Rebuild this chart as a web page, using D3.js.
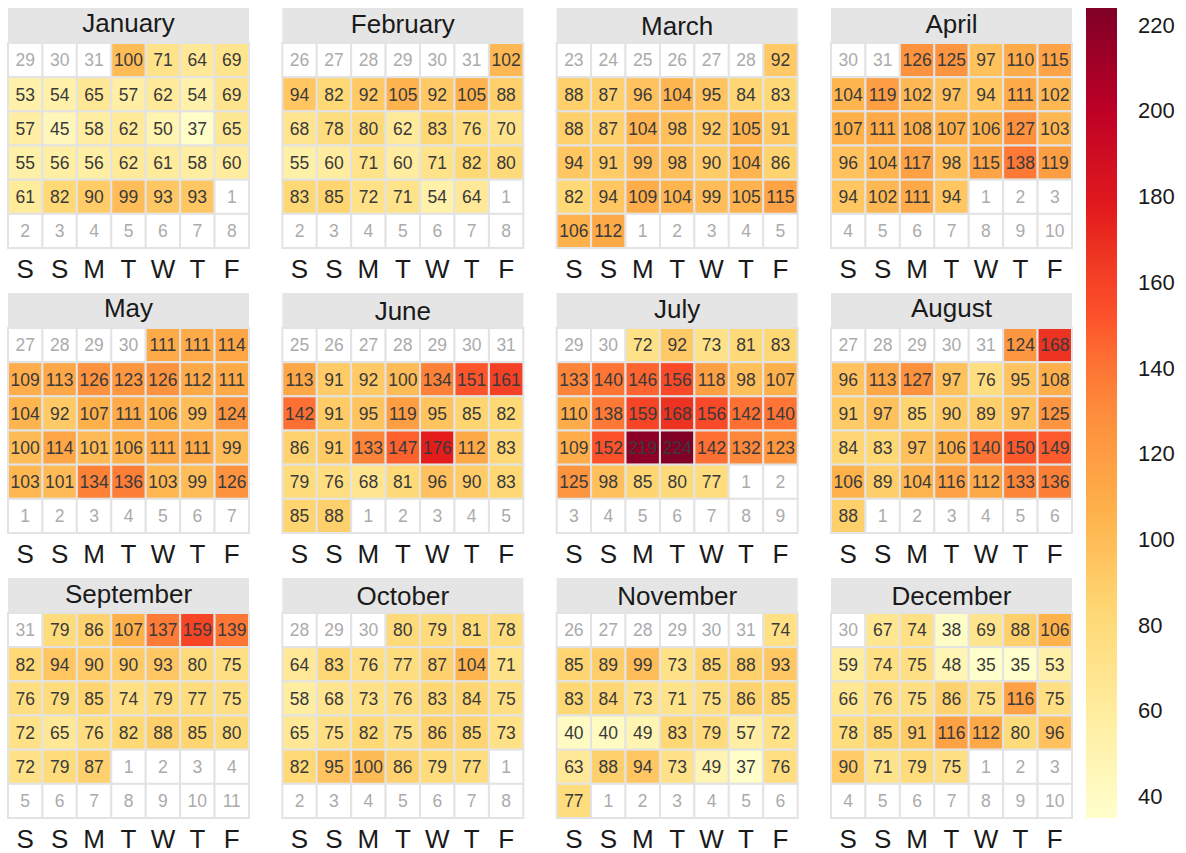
<!DOCTYPE html>
<html>
<head>
<meta charset="utf-8">
<script src="https://cdn.jsdelivr.net/npm/d3@7"></script>
<style>
  body { margin: 0; background: #ffffff; }
  svg { display: block; }
</style>
</head>
<body>
<svg id="chart" width="1186" height="853"></svg>
<script>
// Daily readings for 2019, one array per month (day 1 .. last day)
const year = 2019;
const monthNames = ["January", "February", "March", "April", "May", "June",
                    "July", "August", "September", "October", "November", "December"];
const weekdayLabels = ["S", "S", "M", "T", "W", "T", "F"];

const jan = [100, 71, 64, 69, 53, 54, 65, 57, 62, 54, 69, 57, 45, 58, 62, 50, 37, 65,
             55, 56, 56, 62, 61, 58, 60, 61, 82, 90, 99, 93, 93];
const feb = [102, 94, 82, 92, 105, 92, 105, 88, 68, 78, 80, 62, 83, 76, 70,
             55, 60, 71, 60, 71, 82, 80, 83, 85, 72, 71, 54, 64];
const mar = [92, 88, 87, 96, 104, 95, 84, 83, 88, 87, 104, 98, 92, 105, 91,
             94, 91, 99, 98, 90, 104, 86, 82, 94, 109, 104, 99, 105, 115, 106, 112];
const apr = [126, 125, 97, 110, 115, 104, 119, 102, 97, 94, 111, 102, 107, 111, 108,
             107, 106, 127, 103, 96, 104, 117, 98, 115, 138, 119, 94, 102, 111, 94];
const may = [111, 111, 114, 109, 113, 126, 123, 126, 112, 111, 104, 92, 107, 111, 106,
             99, 124, 100, 114, 101, 106, 111, 111, 99, 103, 101, 134, 136, 103, 99, 126];
const jun = [113, 91, 92, 100, 134, 151, 161, 142, 91, 95, 119, 95, 85, 82,
             86, 91, 133, 147, 176, 112, 83, 79, 76, 68, 81, 96, 90, 83, 85, 88];
const jul = [72, 92, 73, 81, 83, 133, 140, 146, 156, 118, 98, 107, 110, 138, 159, 168,
             156, 142, 140, 109, 152, 219, 224, 142, 132, 123, 125, 98, 85, 80, 77];
const aug = [124, 168, 96, 113, 127, 97, 76, 95, 108, 91, 97, 85, 90, 89, 97, 125,
             84, 83, 97, 106, 140, 150, 149, 106, 89, 104, 116, 112, 133, 136, 88];
const sep = [79, 86, 107, 137, 159, 139, 82, 94, 90, 90, 93, 80, 75, 76, 79,
             85, 74, 79, 77, 75, 72, 65, 76, 82, 88, 85, 80, 72, 79, 87];
const oct = [80, 79, 81, 78, 64, 83, 76, 77, 87, 104, 71, 58, 68, 73, 76, 83,
             84, 75, 65, 75, 82, 75, 86, 85, 73, 82, 95, 100, 86, 79, 77];
const nov = [74, 85, 89, 99, 73, 85, 88, 93, 83, 84, 73, 71, 75, 86, 85,
             40, 40, 49, 83, 79, 57, 72, 63, 88, 94, 73, 49, 37, 76, 77];
const dec = [67, 74, 38, 69, 88, 106, 59, 74, 75, 48, 35, 35, 53, 66, 76, 75,
             86, 75, 116, 75, 78, 85, 91, 116, 112, 80, 96, 90, 71, 79, 75];

const monthValues = [jan, feb, mar, apr, may, jun, jul, aug, sep, oct, nov, dec];
const legendTicks = [40, 60, 80, 100, 120, 140, 160, 180, 200, 220];

// ---- layout ----
const FONT = "'Liberation Sans', Arial, Helvetica, sans-serif";
const panelW = 241, headerH = 35, gridH = 205;
const panelCol = d3.scaleLinear().domain([0, 3]).range([8, 831]);
const panelRow = d3.scaleLinear().domain([0, 2]).range([8, 578]);
const xDay = d3.scaleBand().domain(d3.range(7)).range([0, panelW]);
const yWeek = d3.scaleBand().domain(d3.range(6)).range([headerH, headerH + gridH]);

const allValues = monthValues.flat();
const extent = d3.extent(allValues);
const brewer = ["#ffffcc", "#ffeda0", "#fed976", "#feb24c", "#fd8d3c",
                "#fc4e2a", "#e31a1c", "#bd0026", "#800026"];
const color = d3.scaleLinear()
  .domain(brewer.map((_, i) => extent[0] + (extent[1] - extent[0]) * i / (brewer.length - 1)))
  .range(brewer)
  .interpolate(d3.interpolateLab);

const svg = d3.select("#chart");

// canvas used to measure ink extents so titles are centred on their glyphs
const measureCtx = document.createElement("canvas").getContext("2d");
function inkOffset(text, size) {
  measureCtx.font = `${size}px ${FONT}`;
  const m = measureCtx.measureText(text);
  return (m.actualBoundingBoxAscent - m.actualBoundingBoxDescent) / 2;
}

monthValues.forEach((values, m) => {
  const g = svg.append("g")
    .attr("transform", `translate(${panelCol(m % 4)},${panelRow(Math.floor(m / 4))})`);

  // strip header with month name
  g.append("rect")
    .attr("x", 0).attr("y", 0)
    .attr("width", panelW).attr("height", headerH)
    .attr("fill", "#e5e5e5");
  g.append("text")
    .attr("x", panelW / 2)
    .attr("y", headerH / 2 + inkOffset(monthNames[m], 26))
    .attr("text-anchor", "middle")
    .attr("font-family", FONT)
    .attr("font-size", 26)
    .attr("fill", "#1a1a1a")
    .text(monthNames[m]);

  // weeks run Saturday..Friday; the grid begins on the Saturday on or before the last day of the previous month
  const first = new Date(year, m, 1);
  const start = d3.timeSaturday.floor(d3.timeDay.offset(first, -1));
  const cells = d3.range(42).map(i => {
    const date = d3.timeDay.offset(start, i);
    const inMonth = date.getMonth() === m;
    return {
      col: i % 7,
      row: Math.floor(i / 7),
      day: date.getDate(),
      value: inMonth ? values[date.getDate() - 1] : null
    };
  });

  const cell = g.selectAll("g.cell").data(cells).join("g").attr("class", "cell");
  cell.append("rect")
    .attr("x", d => xDay(d.col))
    .attr("y", d => yWeek(d.row))
    .attr("width", xDay.bandwidth())
    .attr("height", yWeek.bandwidth())
    .attr("fill", d => d.value == null ? "#ffffff" : color(d.value))
    .attr("stroke", "#e3e3e3")
    .attr("stroke-width", 2);
  cell.append("text")
    .attr("x", d => xDay(d.col) + xDay.bandwidth() / 2)
    .attr("y", d => yWeek(d.row) + yWeek.bandwidth() / 2)
    .attr("dy", "0.36em")
    .attr("text-anchor", "middle")
    .attr("font-family", FONT)
    .attr("font-size", 17.5)
    .attr("fill", d => d.value == null ? "#ababab" : "#3a3a3a")
    .text(d => d.value == null ? d.day : d.value);

  // weekday labels under the grid
  g.selectAll("text.wd").data(weekdayLabels).join("text")
    .attr("class", "wd")
    .attr("x", (d, i) => xDay(i) + xDay.bandwidth() / 2)
    .attr("y", headerH + gridH + 30)
    .attr("text-anchor", "middle")
    .attr("font-family", FONT)
    .attr("font-size", 26)
    .attr("fill", "#1a1a1a")
    .text(d => d);
});

// ---- colour bar legend ----
const barX = 1086, barW = 31, barTop = 8, barBottom = 818;
const yLegend = d3.scaleLinear().domain(extent).range([barBottom, barTop]);

const grad = svg.append("defs").append("linearGradient")
  .attr("id", "legendGrad")
  .attr("x1", 0).attr("y1", 1).attr("x2", 0).attr("y2", 0);
grad.selectAll("stop").data(d3.range(0, 1.0001, 0.02)).join("stop")
  .attr("offset", d => d)
  .attr("stop-color", d => color(extent[0] + d * (extent[1] - extent[0])));

svg.append("rect")
  .attr("x", barX).attr("y", barTop)
  .attr("width", barW).attr("height", barBottom - barTop)
  .attr("fill", "url(#legendGrad)");

const legendAxis = svg.append("g")
  .attr("transform", `translate(${barX + barW},0)`)
  .call(d3.axisRight(yLegend).tickValues(legendTicks).tickSize(0).tickPadding(21));
legendAxis.select(".domain").remove();
legendAxis.selectAll("text")
  .attr("font-family", FONT)
  .attr("font-size", 22)
  .attr("fill", "#1a1a1a");
</script>
</body>
</html>
